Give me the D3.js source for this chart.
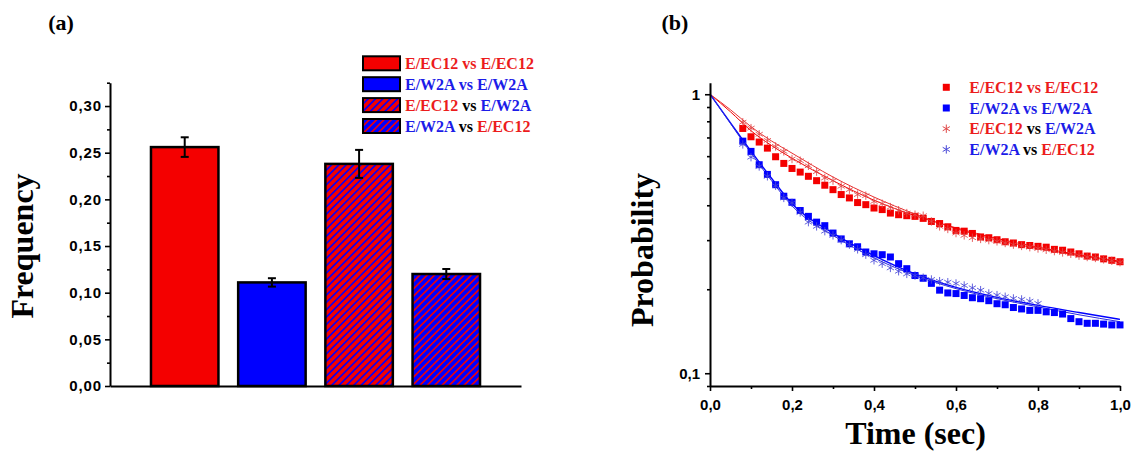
<!DOCTYPE html>
<html><head><meta charset="utf-8">
<script src="https://cdn.jsdelivr.net/npm/d3@7"></script>
<style>body{margin:0;background:#fff}svg{display:block}</style>
</head><body>
<svg id="chart" width="1134" height="452"></svg>
<script>
// ---------- data (panel a) ----------
const categories = ["E/EC12 vs E/EC12", "E/W2A vs E/W2A", "E/EC12 vs E/W2A", "E/W2A vs E/EC12"];
const freqValues = [0.256, 0.111, 0.238, 0.120];
const freqErrors = [0.0105, 0.0045, 0.015, 0.0054];
const freqTicks = [0, 0.05, 0.10, 0.15, 0.20, 0.25, 0.30];
const freqMinorTicks = [0.025, 0.075, 0.125, 0.175, 0.225, 0.275, 0.325];

// ---------- data (panel b) ----------
const times = [0.08,0.10,0.12,0.14,0.16,0.18,0.20,0.22,0.24,0.26,0.28,0.30,0.32,0.34,0.36,0.38,0.40,0.42,0.44,0.46,0.48,0.50,0.52,0.54,0.56,0.58,0.60,0.62,0.64,0.66,0.68,0.70,0.72,0.74,0.76,0.78,0.80,0.82,0.84,0.86,0.88,0.90,0.92,0.94,0.96,0.98,1.00];
const sqRed = [0.754,0.704,0.674,0.641,0.597,0.565,0.542,0.526,0.508,0.490,0.472,0.455,0.437,0.425,0.409,0.402,0.391,0.386,0.375,0.370,0.367,0.365,0.359,0.350,0.344,0.335,0.325,0.323,0.317,0.308,0.306,0.301,0.296,0.293,0.289,0.287,0.285,0.283,0.278,0.276,0.272,0.268,0.263,0.261,0.257,0.254,0.251];
const sqBlue = [0.679,0.624,0.559,0.516,0.474,0.431,0.410,0.383,0.365,0.348,0.338,0.318,0.303,0.291,0.284,0.272,0.268,0.266,0.261,0.247,0.237,0.224,0.219,0.210,0.1985,0.194,0.193,0.190,0.1865,0.185,0.182,0.1775,0.176,0.172,0.170,0.168,0.168,0.166,0.165,0.163,0.157,0.153,0.151,0.151,0.150,0.149,0.149];
const starRed = [0.794,0.756,0.719,0.683,0.650,0.624,0.586,0.578,0.554,0.528,0.501,0.490,0.468,0.455,0.437,0.433,0.413,0.405,0.394,0.384,0.375,0.370,0.367,0.350,0.336,0.329,0.318,0.312,0.306,0.303,0.300,0.297,0.293,0.289,0.286,0.283,0.280,0.277,0.274,0.271,0.268,0.264,0.261,0.259,0.256,0.253,0.250];
const starBlue = [0.661,0.595,0.551,0.508,0.470,0.425,0.408,0.377,0.348,0.336,0.323,0.312,0.300,0.289,0.278,0.266,0.254,0.247,0.2385,0.232,0.227,0.224,0.220,0.2168,0.2138,0.212,0.2098,0.2063,0.2024,0.1985,0.1932,0.1905,0.188,0.1854,0.1839,0.1813,0.178];
const fitTimes = [0, 0.05, 0.1, 0.15, 0.2, 0.3, 0.4, 0.5, 0.6, 0.7, 0.8, 0.9, 1.0];
const fitRedSq = [1, 0.865, 0.74, 0.655, 0.59, 0.49, 0.417, 0.367, 0.332, 0.304, 0.283, 0.266, 0.252];
const fitRedSt = [1, 0.88, 0.765, 0.68, 0.615, 0.505, 0.428, 0.372, 0.33, 0.30, 0.28, 0.264, 0.25];
const fitBlueSq = [1, 0.79, 0.625, 0.50, 0.405, 0.318, 0.264, 0.227, 0.203, 0.187, 0.175, 0.165, 0.156];
const fitBlueSt = [1, 0.785, 0.615, 0.49, 0.398, 0.312, 0.259, 0.224, 0.201, 0.185, 0.173, 0.162, 0.153];
const timeTicks = [0, 0.2, 0.4, 0.6, 0.8, 1.0];
const timeMinorTicks = [0.1, 0.3, 0.5, 0.7, 0.9];
const probTicks = [0.1, 1];
const probMinorTicks = [0.09, 0.2, 0.3, 0.4, 0.5, 0.6, 0.7, 0.8, 0.9];
const probLabels = ["0,1", "1"];

const legendLabels = [
  [["E/EC12 vs E/EC12", "r"]],
  [["E/W2A vs E/W2A", "b"]],
  [["E/EC12", "r"], [" vs ", "k"], ["E/W2A", "b"]],
  [["E/W2A", "b"], [" vs ", "k"], ["E/EC12", "r"]]
];

// ---------- styles ----------
const RED = "#f40000", BLUE = "#0000ff";
const TXT = {r: "#ec1c1c", b: "#1c1ce8", k: "#000"};
const SANS = "'Liberation Sans', Arial, sans-serif";
const SERIF = "'Liberation Serif', 'Times New Roman', serif";
const loc = d3.formatLocale({decimal: ",", thousands: ".", grouping: [3], currency: ["", ""]});
const f2 = loc.format(".2f"), f1 = loc.format(".1f");

const svg = d3.select("#chart");
svg.append("rect").attr("width", 1134).attr("height", 452).attr("fill", "#fff");
const defs = svg.append("defs");
function hatch(id, bg, fg) {
  const s = 5.2;
  const p = defs.append("pattern").attr("id", id).attr("patternUnits", "userSpaceOnUse")
    .attr("width", s).attr("height", s).attr("patternTransform", "rotate(45)");
  p.append("rect").attr("width", s).attr("height", s).attr("fill", bg);
  p.append("line").attr("x1", s / 2).attr("x2", s / 2).attr("y1", 0).attr("y2", s)
    .attr("stroke", fg).attr("stroke-width", 1.6);
}
hatch("hRB", RED, BLUE);
hatch("hBR", BLUE, RED);
const fills = [RED, BLUE, "url(#hRB)", "url(#hBR)"];

function styleAxis(g, fs, ls) {
  g.select(".domain").attr("stroke", "#000").attr("stroke-width", 2);
  g.selectAll(".tick line").attr("stroke", "#000").attr("stroke-width", 1.6);
  g.selectAll("text").attr("font-family", SANS).attr("font-weight", "bold")
    .attr("font-size", fs).attr("fill", "#000").style("letter-spacing", ls || "0px");
}

// ---------- panel (a) ----------
const xA = d3.scaleBand().domain(categories).range([110, 521]).paddingInner(0.226).paddingOuter(0.47);
const yA = d3.scaleLinear().domain([0, 0.325]).range([386, 82.7]);

const gA = svg.append("g");
gA.selectAll("rect.bar").data(categories).join("rect").attr("class", "bar")
  .attr("x", d => xA(d)).attr("y", (d, i) => yA(freqValues[i]))
  .attr("width", xA.bandwidth()).attr("height", (d, i) => yA(0) - yA(freqValues[i]))
  .attr("fill", (d, i) => fills[i]).attr("stroke", "#000").attr("stroke-width", 2.5);

const eb = gA.selectAll("g.err").data(categories).join("g").attr("class", "err")
  .attr("stroke", "#000").attr("stroke-width", 2);
eb.append("line").attr("x1", d => xA(d) + xA.bandwidth() / 2).attr("x2", d => xA(d) + xA.bandwidth() / 2)
  .attr("y1", (d, i) => yA(freqValues[i] + freqErrors[i])).attr("y2", (d, i) => yA(freqValues[i] - freqErrors[i]));
[1, -1].forEach(sgn => {
  eb.append("line").attr("x1", d => xA(d) + xA.bandwidth() / 2 - 4).attr("x2", d => xA(d) + xA.bandwidth() / 2 + 4)
    .attr("y1", (d, i) => yA(freqValues[i] + sgn * freqErrors[i])).attr("y2", (d, i) => yA(freqValues[i] + sgn * freqErrors[i]));
});

const axA = gA.append("g").attr("transform", "translate(110,0)")
  .call(d3.axisLeft(yA).tickValues(freqTicks).tickFormat(f2).tickSize(5).tickSizeOuter(0).tickPadding(3));
styleAxis(axA, 15, "0.9px");
const axAm = gA.append("g").attr("transform", "translate(110,0)")
  .call(d3.axisLeft(yA).tickValues(freqMinorTicks).tickFormat("").tickSize(3).tickSizeOuter(0));
styleAxis(axAm, 15);
axAm.select(".domain").remove();
const axAx = gA.append("g").attr("transform", "translate(0,386)")
  .call(d3.axisBottom(xA).tickSize(0).tickFormat(""));
styleAxis(axAx, 15);

gA.append("text").attr("transform", "translate(33,246) rotate(-90)").attr("text-anchor", "middle")
  .attr("font-family", SERIF).attr("font-weight", "bold").attr("font-size", 32).text("Frequency");
gA.append("text").attr("x", 61).attr("y", 30).attr("text-anchor", "middle")
  .attr("font-family", SERIF).attr("font-weight", "bold").attr("font-size", 22).text("(a)");

// legend (a)
const legA = gA.append("g");
categories.forEach((c, i) => {
  const cy = 63.3 + i * 20.9;
  legA.append("rect").attr("x", 363).attr("y", cy - 7).attr("width", 37).attr("height", 14)
    .attr("fill", fills[i]).attr("stroke", "#000").attr("stroke-width", 2);
  const t = legA.append("text").attr("x", 405).attr("y", cy + 5.5)
    .attr("font-family", SERIF).attr("font-weight", "bold").attr("font-size", 16).attr("xml:space", "preserve");
  legendLabels[i].forEach(([s, k]) => t.append("tspan").attr("fill", TXT[k]).text(s));
});

// ---------- panel (b) ----------
const xB = d3.scaleLinear().domain([0, 1]).range([710, 1120]);
const yB = d3.scaleLog().domain([0.09, 1.1]).range([386, 82.7]);
const gB = svg.append("g");

const line = d3.line().x(d => xB(d[0])).y(d => yB(d[1])).curve(d3.curveMonotoneX);
const fits = [[fitRedSq, RED, 1], [fitRedSt, "#e83030", 1], [fitBlueSq, BLUE, 1.4], [fitBlueSt, "#2a2ae0", 1]];
fits.forEach(([arr, col, w]) => {
  gB.append("path").datum(fitTimes.map((t, i) => [t, arr[i]])).attr("d", line)
    .attr("fill", "none").attr("stroke", col).attr("stroke-width", w);
});

const starPath = "M0,-4.2L0,4.2M-3.6,-2.1L3.6,2.1M-3.6,2.1L3.6,-2.1";
function squares(g, arr, col) {
  g.selectAll(null).data(arr).join("rect")
    .attr("x", (d, i) => xB(times[i]) - 3.5).attr("y", d => yB(d) - 3.5)
    .attr("width", 7).attr("height", 7).attr("fill", col);
}
function stars(g, arr, col) {
  g.selectAll(null).data(arr).join("path")
    .attr("transform", (d, i) => `translate(${xB(times[i])},${yB(d)})`)
    .attr("d", starPath).attr("fill", "none").attr("stroke", col).attr("stroke-width", 1).attr("opacity", 0.85);
}
squares(gB.append("g"), sqRed, RED);
squares(gB.append("g"), sqBlue, BLUE);
stars(gB.append("g"), starRed, "#e04848");
stars(gB.append("g"), starBlue, "#4848d8");

const axBy = gB.append("g").attr("transform", "translate(710,0)")
  .call(d3.axisLeft(yB).tickValues(probTicks).tickFormat((d, i) => probLabels[i]).tickSize(5).tickSizeOuter(0).tickPadding(5));
styleAxis(axBy, 15);
const axBym = gB.append("g").attr("transform", "translate(710,0)")
  .call(d3.axisLeft(yB).tickValues(probMinorTicks).tickFormat("").tickSize(3).tickSizeOuter(0));
styleAxis(axBym, 15);
axBym.select(".domain").remove();
const axBx = gB.append("g").attr("transform", "translate(0,386)")
  .call(d3.axisBottom(xB).tickValues(timeTicks).tickFormat(f1).tickSize(5).tickSizeOuter(0).tickPadding(8));
styleAxis(axBx, 15);
const axBxm = gB.append("g").attr("transform", "translate(0,386)")
  .call(d3.axisBottom(xB).tickValues(timeMinorTicks).tickFormat("").tickSize(3).tickSizeOuter(0));
styleAxis(axBxm, 15);
axBxm.select(".domain").remove();

gB.append("text").attr("transform", "translate(653,250) rotate(-90)").attr("text-anchor", "middle")
  .attr("font-family", SERIF).attr("font-weight", "bold").attr("font-size", 32).text("Probability");
gB.append("text").attr("x", 915.5).attr("y", 444).attr("text-anchor", "middle")
  .attr("font-family", SERIF).attr("font-weight", "bold").attr("font-size", 32).text("Time (sec)");
gB.append("text").attr("x", 675).attr("y", 30).attr("text-anchor", "middle")
  .attr("font-family", SERIF).attr("font-weight", "bold").attr("font-size", 22).text("(b)");

// legend (b)
const legB = gB.append("g");
const legMarkers = [["sq", RED], ["sq", BLUE], ["st", "#e04848"], ["st", "#4848d8"]];
legMarkers.forEach(([m, col], i) => {
  const cy = 87.3 + i * 20.7;
  if (m === "sq") legB.append("rect").attr("x", 946.3 - 3.5).attr("y", cy - 3.5).attr("width", 7).attr("height", 7).attr("fill", col);
  else legB.append("path").attr("transform", `translate(946.3,${cy})`).attr("d", starPath)
    .attr("fill", "none").attr("stroke", col).attr("stroke-width", 1);
  const t = legB.append("text").attr("x", 969.3).attr("y", cy + 5.5)
    .attr("font-family", SERIF).attr("font-weight", "bold").attr("font-size", 16).attr("xml:space", "preserve");
  legendLabels[i].forEach(([s, k]) => t.append("tspan").attr("fill", TXT[k]).text(s));
});
</script>
</body></html>
